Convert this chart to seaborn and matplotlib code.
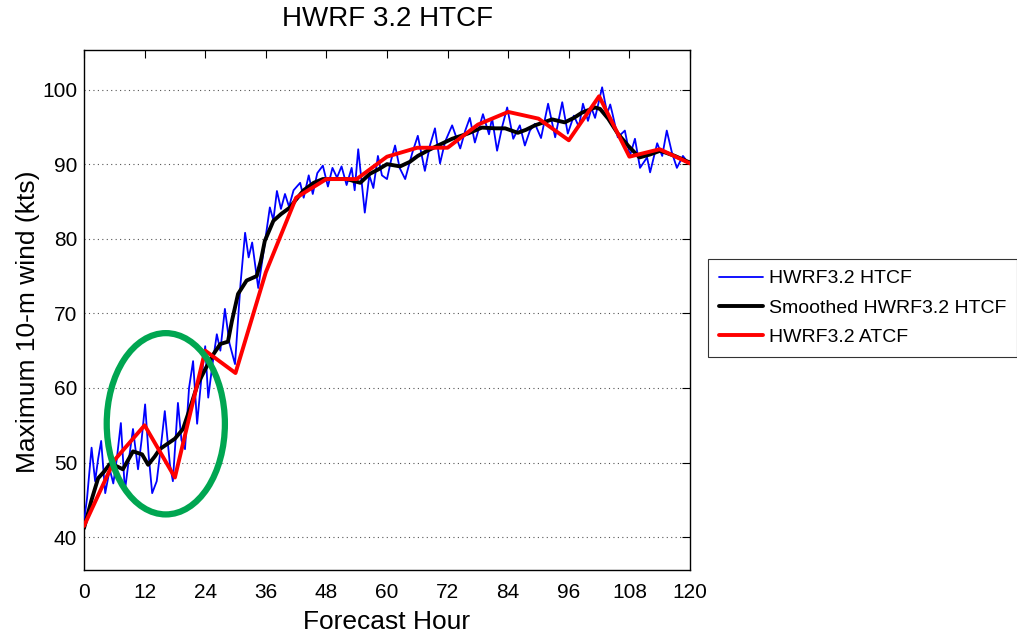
import matplotlib
matplotlib.use("Agg")
import matplotlib.pyplot as plt
import seaborn as sns
import pandas as pd
from matplotlib.patches import Ellipse

# ---- data ----
blue_hours = [0.0, 0.6, 1.5, 2.2, 2.8, 3.4, 4.2, 5.1, 5.8, 6.5, 7.3, 8.1, 8.9, 9.7, 10.7,
              11.4, 12.1, 12.8, 13.5, 14.4, 15.2, 16.0, 17.0, 17.6, 18.6, 19.3, 20.0, 20.8,
              21.6, 22.4, 23.2, 24.0, 24.6, 25.4, 26.3, 27.0, 27.9, 28.8, 29.9, 31.0, 31.9,
              32.6, 33.3, 34.5, 35.5, 36.8, 37.5, 38.2, 39.0, 39.8, 40.6, 41.5, 42.8, 43.5,
              44.5, 45.3, 46.2, 47.3, 48.3, 49.2, 50.1, 51.0, 52.0, 53.0, 53.6, 54.3, 55.0,
              55.6, 56.5, 57.3, 58.2, 59.0, 60.0, 60.8, 61.6, 62.5, 63.6, 65.0, 66.1, 67.5,
              68.5, 69.5, 70.5, 71.5, 72.9, 74.5, 75.5, 76.4, 77.4, 79.0, 80.2, 80.8, 81.8,
              82.8, 83.8, 85.0, 86.3, 87.3, 88.3, 89.3, 90.5, 91.9, 93.3, 94.7, 95.8, 97.0,
              98.0, 98.8, 99.8, 100.5, 101.2, 102.6, 103.6, 104.2, 104.6, 105.7, 107.1, 108.1,
              109.1, 110.1, 111.5, 112.1, 113.5, 114.5, 115.4, 116.4, 117.4, 118.6, 119.6, 120.0]
blue_kts = [42.1, 45.2, 52.0, 47.5, 50.5, 52.9, 45.9, 49.1, 47.2, 50.5, 55.3, 46.2, 50.5, 54.5, 49.1,
            53.0, 57.8, 51.0, 45.9, 47.5, 52.0, 56.9, 49.8, 47.5, 58.0, 53.0, 51.8, 60.0,
            63.6, 55.2, 61.0, 65.6, 58.7, 63.0, 67.2, 65.0, 70.6, 66.0, 63.2, 74.0, 80.8,
            77.5, 79.5, 73.4, 78.0, 84.2, 82.5, 86.4, 84.0, 86.0, 84.3, 86.5, 87.5, 85.5,
            88.5, 86.0, 88.8, 89.8, 87.0, 89.5, 88.2, 89.7, 87.2, 89.5, 86.5, 92.0, 87.5,
            83.5, 88.5, 86.8, 91.1, 88.5, 88.0, 90.5, 92.5, 89.5, 88.0, 91.5, 93.8, 89.1,
            92.5, 94.8, 90.1, 93.0, 95.2, 92.1, 94.5, 96.2, 92.9, 96.7, 94.0, 96.2, 91.8,
            95.0, 97.6, 93.4, 95.2, 92.5, 94.5, 95.4, 93.5, 98.1, 93.6, 98.3, 94.1, 96.5,
            95.0, 98.1, 95.8, 97.5, 96.2, 100.3, 96.8, 98.0, 96.9, 93.6, 94.5, 91.1,
            93.4, 89.5, 90.9, 88.9, 92.8, 91.1, 94.5, 91.6, 89.5, 91.1, 90.2, 90.4]

smooth_hours = [0, 1.5, 2.8, 4, 5.1, 6.5, 7.7, 8.7, 9.7, 11.5, 12.7, 14, 15, 16.5, 18, 19.6,
                21, 22.5, 24, 25.6, 27, 28.5, 29.3, 30.5, 32.2, 34.2, 35, 35.8, 37.5, 39,
                40.8, 41.8, 43.5, 45.5, 47.3, 52, 54.7, 56.6, 58.3, 60, 62.6, 64.5, 66.1,
                68, 70.1, 72.9, 76, 78.8, 81.4, 83.4, 85.9, 87.5, 89.3, 92.7, 95.2, 97,
                98.6, 101.2, 102.2, 103.8, 105.7, 107.7, 110, 112.1, 114.1, 117, 120]
smooth_kts = [41.2, 45.0, 47.9, 48.8, 49.8, 49.5, 49.1, 50.3, 51.5, 51.1, 49.7, 50.8, 51.8, 52.5,
              53.2, 54.5, 57.3, 60.5, 62.5, 64.5, 65.9, 66.2, 69.0, 72.6, 74.4, 75.0, 77.0,
              79.7, 82.4, 83.3, 84.2, 85.1, 86.5, 87.5, 88.0, 88.0, 87.5, 88.7, 89.3, 90.0,
              89.7, 90.3, 91.1, 91.8, 92.5, 93.4, 94.1, 94.9, 94.8, 94.8, 94.2, 94.6, 95.2,
              96.0, 95.6, 96.2, 96.9, 97.6, 97.4, 96.1, 94.1, 92.5, 90.9, 91.3, 91.8, 91.1, 90.2]

atcf_hours = [0, 6, 12, 18, 24, 30, 36, 42, 48, 54, 60, 66, 72, 78, 84, 90, 96, 102, 108, 114, 120]
atcf_kts = [41.5, 50.3, 55.0, 48.0, 65.0, 62.0, 75.5, 85.5, 88.0, 88.0, 91.0, 92.2, 92.2, 95.3,
            97.0, 96.1, 93.2, 99.1, 91.0, 92.0, 90.1]

x_ticks = list(range(0, 121, 12))
y_ticks = [40, 50, 60, 70, 80, 90, 100]

title = "HWRF 3.2 HTCF"
xlabel = "Forecast Hour"
ylabel = "Maximum 10-m wind (kts)"
labels = ["HWRF3.2 HTCF", "Smoothed HWRF3.2 HTCF", "HWRF3.2 ATCF"]

# ---- plotting ----
sns.set_style("white")
plt.rcParams["font.family"] = ["Liberation Sans", "DejaVu Sans"]
plt.rcParams["text.color"] = "black"
plt.rcParams["axes.labelcolor"] = "black"

W, H = 1017, 635
fig = plt.figure(figsize=(W / 100, H / 100), dpi=100)
ax = fig.add_axes([84 / W, 1 - 570 / H, (690 - 84) / W, (570 - 50) / H])

blue_df = pd.DataFrame({"hour": blue_hours, "kts": blue_kts})
smooth_df = pd.DataFrame({"hour": smooth_hours, "kts": smooth_kts})
atcf_df = pd.DataFrame({"hour": atcf_hours, "kts": atcf_kts})

sns.lineplot(data=blue_df, x="hour", y="kts", ax=ax, color="#0000FF", linewidth=1.3,
             label=labels[0], estimator=None, zorder=3)
sns.lineplot(data=smooth_df, x="hour", y="kts", ax=ax, color="black", linewidth=2.8,
             label=labels[1], estimator=None, zorder=4)
sns.lineplot(data=atcf_df, x="hour", y="kts", ax=ax, color="#FF0000", linewidth=2.8,
             label=labels[2], estimator=None, zorder=5)

ell = Ellipse((16.2, 55.2), 23.4, 24.3, fill=False, edgecolor="#00A651", linewidth=4.5, zorder=6)
ax.add_patch(ell)

ax.set_xlim(0, 120)
ax.set_ylim(35.6, 105.3)
ax.set_xticks(x_ticks)
ax.set_yticks(y_ticks)
ax.tick_params(direction="in", length=6, width=0.8, top=True, right=True,
               labelsize=15, colors="black")
ax.tick_params(axis="y", pad=5)
ax.tick_params(axis="x", pad=9)
ax.yaxis.grid(True, linestyle=(0, (1, 3)), color="#555555", linewidth=0.8)
ax.xaxis.grid(False)
for s in ax.spines.values():
    s.set_color("black")
    s.set_linewidth(1.0)

ax.set_title(title, fontsize=20, pad=17, color="black")
ax.set_xlabel(xlabel, fontsize=19, labelpad=6, color="black")
ax.set_ylabel(ylabel, fontsize=19, color="black")
ax.yaxis.set_label_coords(-0.072, 0.477)

leg = ax.legend(loc="upper left", bbox_to_anchor=(708 / W, 1 - 259 / H),
                bbox_transform=fig.transFigure, fontsize=14, frameon=True,
                fancybox=False, edgecolor="black", handlelength=2.3,
                labelspacing=0.6, borderpad=0.55, handletextpad=0.3, borderaxespad=0)
leg.get_frame().set_linewidth(0.8)
for t in leg.get_texts():
    t.set_color("black")

fig.savefig("out.png", dpi=100)
